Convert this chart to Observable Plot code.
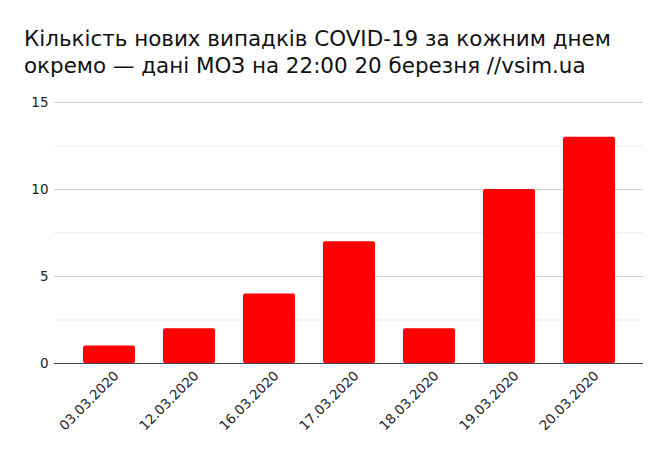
<!DOCTYPE html>
<html>
<head>
<meta charset="utf-8">
<script src="https://cdn.jsdelivr.net/npm/d3@7"></script>
<script src="https://cdn.jsdelivr.net/npm/@observablehq/plot@0.6"></script>
<style>
  body { margin: 0; background: #fff; width: 665px; height: 453px; overflow: hidden; }
  #title { box-sizing: border-box; height: 85px; padding: 25px 0 0 24px; font-family: "DejaVu Sans", sans-serif; font-size: 21.45px; line-height: 27px; color: #111; white-space: nowrap; }
  svg { display: block; }
</style>
</head>
<body>
<div id="title">Кількість нових випадків COVID-19 за кожним днем<br>окремо — дані МОЗ на 22:00 20 березня //vsim.ua</div>
<div id="chart"></div>
<script>
const dates = ["03.03.2020", "12.03.2020", "16.03.2020", "17.03.2020", "18.03.2020", "19.03.2020", "20.03.2020"];
const cases = [1, 2, 4, 7, 2, 10, 13];
const majorTicks = [0, 5, 10, 15];
const minorTicks = [2.5, 7.5, 12.5];

const data = dates.map((d, i) => ({date: d, value: cases[i]}));

const chart = Plot.plot({
  width: 665,
  height: 368,
  marginLeft: 54,
  marginRight: 22,
  marginTop: 17,
  marginBottom: 90,
  style: {fontFamily: "DejaVu Sans, sans-serif", fontSize: "13.5px", color: "#222", background: "#fff"},
  x: {domain: dates, label: null, paddingInner: 0.35, paddingOuter: 0.356},
  y: {domain: [0, 15], label: null},
  marks: [
    Plot.ruleY(minorTicks, {stroke: "#ebebeb", strokeWidth: 1}),
    Plot.ruleY(majorTicks.filter(t => t > 0), {stroke: "#d0d0d0", strokeWidth: 1}),
    Plot.barY(data, {x: "date", y: "value", fill: "#ff0000", rx: 2}),
    Plot.ruleY([0], {stroke: "#444", strokeWidth: 1}),
    Plot.axisY({ticks: majorTicks, tickSize: 0, tickPadding: 6, label: null, fill: "#222", fontSize: 13.5}),
    Plot.axisX({tickSize: 0, tickRotate: -45, tickPadding: 10, dx: 7, label: null, fill: "#222", fontSize: 13.5})
  ]
});
document.getElementById("chart").appendChild(chart);
</script>
</body>
</html>
